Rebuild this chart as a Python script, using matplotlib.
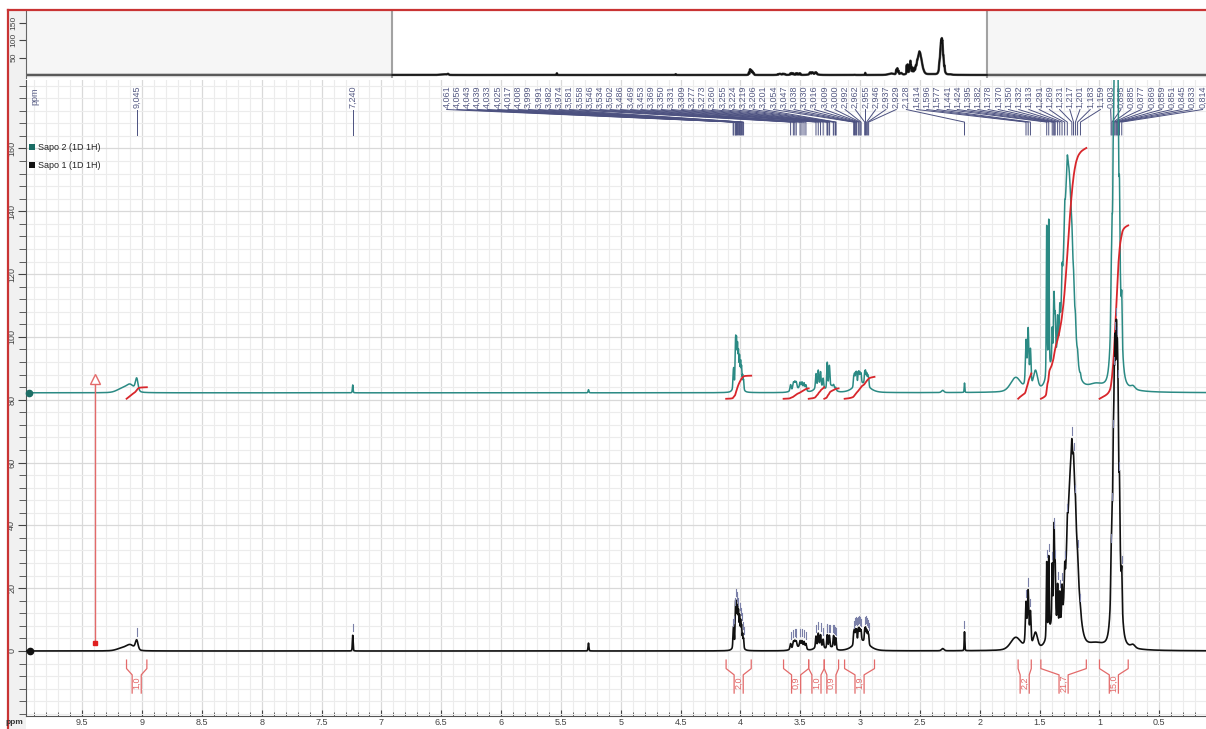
#!/usr/bin/env python3
"""1H NMR overlay of Sapo 1 / Sapo 2 with peak picking and integrals."""
import numpy as np
import matplotlib
matplotlib.use("Agg")
import matplotlib.pyplot as plt
from matplotlib.patches import Rectangle
from matplotlib.lines import Line2D
from matplotlib.ticker import FixedLocator, MultipleLocator

plt.rcParams["font.family"] = ["Liberation Sans", "DejaVu Sans"]

# line list: shift (ppm), half width (ppm), height in Sapo 1, height in Sapo 2
PEAK_SHIFTS = [
    9.170, 9.100, 9.045,
    7.240, 5.270,
    4.020, 4.061, 4.056, 4.043, 4.039, 4.033, 4.025, 4.017, 4.008, 3.999, 3.991, 3.982, 3.974,
    3.520, 3.581, 3.558, 3.546, 3.534, 3.502, 3.486, 3.469, 3.453,
    3.340, 3.240, 3.369, 3.350, 3.331, 3.309, 3.277, 3.273, 3.260, 3.255, 3.224, 3.219, 3.206, 3.201,
    2.990, 3.054, 3.047, 3.038, 3.030, 3.016, 3.009, 3.000, 2.992, 2.962, 2.955, 2.946, 2.937, 2.929,
    2.310, 2.128,
    1.700, 1.600, 1.614, 1.596, 1.577, 1.535,
    1.380, 1.262, 1.230, 1.441, 1.424, 1.395, 1.382, 1.378, 1.370, 1.350, 1.332, 1.313, 1.291, 1.269,
    1.231, 1.217, 1.201, 1.183, 1.159,
    1.030, 0.860, 0.903, 0.895, 0.885, 0.877, 0.869, 0.859, 0.851, 0.845, 0.833, 0.814, 0.720,
]
PEAK_WIDTHS = [
    0.050, 0.040, 0.013,
    0.0035, 0.004,
    0.030] + [0.0035] * 12 + [
    0.050] + [0.006] * 8 + [
    0.040, 0.030] + [0.005] * 4 + [0.004] * 8 + [
    0.070] + [0.004] * 13 + [
    0.012, 0.003,
    0.050, 0.020, 0.006, 0.006, 0.006, 0.020,
    0.050, 0.045, 0.045] + [0.004] * 11 + [0.004] * 5 + [
    0.060, 0.030] + [0.004] * 10 + [0.020]
SAPO1_HEIGHTS = [
    0.8, 1.8, 3.0,
    5.0, 2.5,
    3.0, 4, 5, 7, 9, 10, 10, 9, 8, 7, 6, 4, 3,
    1.2, 1.8, 2.0, 2.0, 1.8, 2.0, 2.2, 2.2, 1.8,
    1.5, 1.0, 3.5, 4.0, 3.5, 2.5, 2.6, 2.6, 2.6, 2.6, 2.6, 2.6, 2.4, 2.4,
    3.2, 3.5, 4.0, 4.0, 3.8, 3.5, 3.5, 3.2, 3.0, 3.5, 4.0, 3.8, 3.5, 3.0,
    0.7, 6.0,
    4.0, 3.0, 12, 15, 10, 5.0,
    8.0, 0.0, 62, 24, 24, 18, 18, 18, 16, 12, 10, 10, 8, 6,
    5, 4, 3, 2, 1,
    1.2, 70, 12, 15, 22, 28, 30, 30, 25, 20, 15, 10, 1.0,
]
SAPO2_HEIGHTS = [
    1.2, 2.4, 4.0,
    2.5, 1.0,
    3.5, 4, 5, 8, 10, 12, 11, 9, 8, 7, 6, 4, 3,
    1.3, 2.0, 2.2, 2.2, 2.0, 2.0, 2.3, 2.3, 1.9,
    2.0, 2.0, 4.5, 5.0, 4.5, 3.0, 5.0, 5.0, 4.5, 4.5, 0.6, 0.6, 0.5, 0.5,
    3.0, 3.0, 3.5, 3.8, 3.8, 3.2, 3.2, 3.0, 2.8, 3.5, 3.8, 3.6, 3.2, 2.8,
    0.7, 3.0,
    4.5, 3.0, 13, 16, 11, 6.0,
    8.0, 72, 0.0, 48, 48, 10, 12, 12, 12, 10, 8, 8, 6, 4,
    3, 3, 3, 2, 1,
    1.5, 85, 15, 18, 25, 32, 34, 34, 28, 24, 18, 12, 1.0,
]
SAPO2_OFFSET = 82.2

# picked peaks shown along the top
SINGLE_LABELS = [9.045, 7.240]
FAN_LABELS = [
    4.061, 4.056, 4.043, 4.039, 4.033, 4.025, 4.017, 4.008, 3.999, 3.991, 3.982, 3.974,
    3.581, 3.558, 3.546, 3.534, 3.502, 3.486, 3.469, 3.453,
    3.369, 3.350, 3.331, 3.309, 3.277, 3.273, 3.260, 3.255, 3.224, 3.219, 3.206, 3.201,
    3.054, 3.047, 3.038, 3.030, 3.016, 3.009, 3.000, 2.992, 2.962, 2.955, 2.946, 2.937, 2.929,
    2.128,
    1.614, 1.596, 1.577,
    1.441, 1.424, 1.395, 1.382, 1.378, 1.370, 1.350, 1.332, 1.313, 1.291, 1.269,
    1.231, 1.217, 1.201, 1.183, 1.159,
    0.903, 0.895, 0.885, 0.877, 0.869, 0.859, 0.851, 0.845, 0.833, 0.814,
]

# integral regions (ppm) and their values
INTEGRAL_FROM = [9.13, 4.12, 3.64, 3.43, 3.30, 3.13, 1.68, 1.49, 1.00]
INTEGRAL_TO = [8.96, 3.91, 3.43, 3.30, 3.18, 2.88, 1.57, 1.11, 0.76]
INTEGRAL_VALUES = [1.0, 2.0, 0.9, 1.0, 0.9, 1.9, 2.2, 21.7, 15.0]
INTEGRAL_SCALE = 3.68
INTEGRAL_BASE = 80.3

X_TICKS = [9.5, 9, 8.5, 8, 7.5, 7, 6.5, 6, 5.5, 5, 4.5, 4, 3.5, 3, 2.5, 2, 1.5, 1, 0.5]
Y_TICKS = [0, 20, 40, 60, 80, 100, 120, 140, 160]

W, H = 1206, 729
TEAL = "#2b8a84"
SLATE = "#575c85"
RED = "#d8262b"
RED_LIGHT = "#e36a6a"


def fx(px):
    return px / W


def fy(py):
    return 1 - py / H


ppm = np.arange(16.1, -3.6, -0.0005)
shifts = np.array(PEAK_SHIFTS)
widths = np.array(PEAK_WIDTHS)


def spectrum(heights):
    d = (ppm[:, None] - shifts[None, :]) / widths[None, :]
    shape = 0.3 / (1 + d ** 2) + 0.7 * np.exp(-np.log(2) * d ** 2)
    return shape @ np.asarray(heights, dtype=float)


spec1 = spectrum(SAPO1_HEIGHTS)
spec2 = spectrum(SAPO2_HEIGHTS)

XLIM = (9.97, 0.11)

fig = plt.figure(figsize=(W / 100, H / 100), dpi=100)
fig.patch.set_facecolor("white")

# frame decorations around the panels
fig.add_artist(Rectangle((fx(8), 0), fx(26) - fx(8), fy(10), transform=fig.transFigure,
                         facecolor="#f1f1f1", edgecolor="none", zorder=0))
fig.add_artist(Line2D([fx(7.5), fx(7.5)], [0, fy(10)], transform=fig.transFigure,
                      color="#c93434", lw=1.6))
fig.add_artist(Line2D([fx(7.5), 1], [fy(10), fy(10)], transform=fig.transFigure,
                      color="#c93434", lw=1.6))

# ---- overview strip
ov = fig.add_axes([fx(26), fy(78), fx(1206) - fx(26), fy(10) - fy(78)])
ov.set_facecolor("#f6f6f6")
ov.set_xlim(16.04, -3.52)
ov.set_ylim(-8.6, 186)
ov.axvspan(XLIM[0], XLIM[1], color="white", zorder=0)
for edge in XLIM:
    ov.axvline(edge, color="#a2a2a2", lw=1.5)
ov.plot(ppm, spec1, color="#5a5a5a", lw=1.8)
inside = (ppm <= XLIM[0]) & (ppm >= XLIM[1])
ov.plot(ppm[inside], spec1[inside], color="#111111", lw=1.1)
for side in ["top", "right", "bottom"]:
    ov.spines[side].set_visible(False)
ov.spines["left"].set_color("#666666")
ov.set_xticks([])
ov.set_yticks([50, 100, 150])
ov.tick_params(axis="y", direction="out", length=5, labelsize=6, colors="#444", pad=1)
plt.setp(ov.get_yticklabels(), rotation=90, va="center")

# ---- main panel
ax = fig.add_axes([fx(26), fy(716), fx(1206) - fx(26), fy(80) - fy(716)])
ax.set_xlim(*XLIM)
ax.set_ylim(-20.7, 181.8)
ax.set_axisbelow(True)
ax.xaxis.set_major_locator(FixedLocator(X_TICKS))
ax.xaxis.set_minor_locator(MultipleLocator(0.1))
ax.set_xticklabels([f"{t:g}" for t in X_TICKS])
ax.yaxis.set_major_locator(FixedLocator(Y_TICKS))
ax.yaxis.set_minor_locator(MultipleLocator(4))
ax.grid(which="major", color="#d9d9d9", lw=0.9)
ax.grid(which="minor", color="#ececec", lw=0.8)
for side in ["top", "right"]:
    ax.spines[side].set_visible(False)
for side in ["left", "bottom"]:
    ax.spines[side].set_color("#555555")
ax.tick_params(axis="x", which="both", direction="in", colors="#444", labelsize=6.5, pad=1.5)
ax.tick_params(axis="x", which="major", length=4)
ax.tick_params(axis="x", which="minor", length=3)
ax.tick_params(axis="y", which="both", direction="out", colors="#444", labelsize=6.5, pad=1)
ax.tick_params(axis="y", which="major", length=6)
ax.tick_params(axis="y", which="minor", length=5)
plt.setp(ax.get_yticklabels(), rotation=90, va="center")

# spectra and integrals
ax.plot(ppm, SAPO2_OFFSET + spec2, color=TEAL, lw=1.1, zorder=3)
for start, end, val in zip(INTEGRAL_FROM, INTEGRAL_TO, INTEGRAL_VALUES):
    sel = (ppm <= start) & (ppm >= end)
    cum = np.cumsum(spec2[sel])
    cum = cum / cum[-1] * val * INTEGRAL_SCALE
    ax.plot(ppm[sel], INTEGRAL_BASE + cum, color=RED, lw=1.3, zorder=4)

    # bracket with the value under the lower trace
    mid = (start + end) / 2
    gap = min(0.038, (start - end) / 2)
    ax.plot([start, start, mid + gap, mid + gap], [-2.9, -5.6, -7.6, -13.4],
            color=RED_LIGHT, lw=0.9, zorder=4)
    ax.plot([end, end, mid - gap, mid - gap], [-2.9, -5.6, -7.6, -13.4],
            color=RED_LIGHT, lw=0.9, zorder=4)
    ax.text(mid, -10.2, f"{val:.1f}".replace(".", ","), rotation=90, ha="center",
            va="center", fontsize=6.5, color=RED_LIGHT, zorder=4)

ax.plot(ppm, spec1, color="#111111", lw=1.2, zorder=5)

# peak-pick ticks above the lower trace
rev_ppm, rev_spec = ppm[::-1], spec1[::-1]
for p in SINGLE_LABELS + FAN_LABELS:
    v = np.interp(p, rev_ppm, rev_spec)
    ax.plot([p, p], [v + 1.3, v + 3.6], color="#7b80a8", lw=0.8, zorder=6)


# peak labels along the top
def px_to_ppm(px):
    return 9 - (px - 142.3) / 119.7


fan_x = np.linspace(px_to_ppm(447), px_to_ppm(1203), len(FAN_LABELS))
label_pos = list(zip(SINGLE_LABELS, SINGLE_LABELS)) + list(zip(FAN_LABELS, fan_x))
for peak, lx in label_pos:
    ax.text(lx, 172.9, f"{peak:.3f}".replace(".", ","), rotation=90, ha="center",
            va="bottom", fontsize=6.5, color=SLATE, zorder=2)
    ax.plot([lx, peak, peak], [172.4, 168.4, 164.3], color="#4c5180", lw=0.7, zorder=2)
ax.text(px_to_ppm(35), 176.5, "ppm", rotation=90, ha="center", va="center",
        fontsize=6.5, color=SLATE)

# red reference arrow
arrow_x = px_to_ppm(95)
ax.plot([arrow_x, arrow_x], [2.5, 86.0], color=RED_LIGHT, lw=1.0, zorder=4)
ax.plot(arrow_x, 2.5, "s", ms=2.8, color="#e02020", zorder=4)
ax.plot(arrow_x, 86.6, "^", ms=7, mfc="white", mec=RED_LIGHT, mew=1.0, zorder=4)

# trace markers at the left edge
ax.plot(px_to_ppm(29), SAPO2_OFFSET, "o", ms=4.5, color="#1d6e66", clip_on=False, zorder=7)
ax.plot(px_to_ppm(30), 0, "o", ms=4.5, color="#111111", clip_on=False, zorder=7)

# legend
for py, color, name in [(147, "#1a6c64", "Sapo 2 (1D 1H)"), (165, "#111111", "Sapo 1 (1D 1H)")]:
    fig.add_artist(Rectangle((fx(29), fy(py + 3)), fx(6), 6 / H, transform=fig.transFigure,
                             facecolor=color, edgecolor="none"))
    fig.text(fx(38), fy(py), name, fontsize=6.5, color="#222", ha="left", va="center")

fig.text(fx(14), fy(722), "ppm", fontsize=6, fontweight="bold", color="#333",
         ha="center", va="center")

fig.savefig("out.png", dpi=100)
